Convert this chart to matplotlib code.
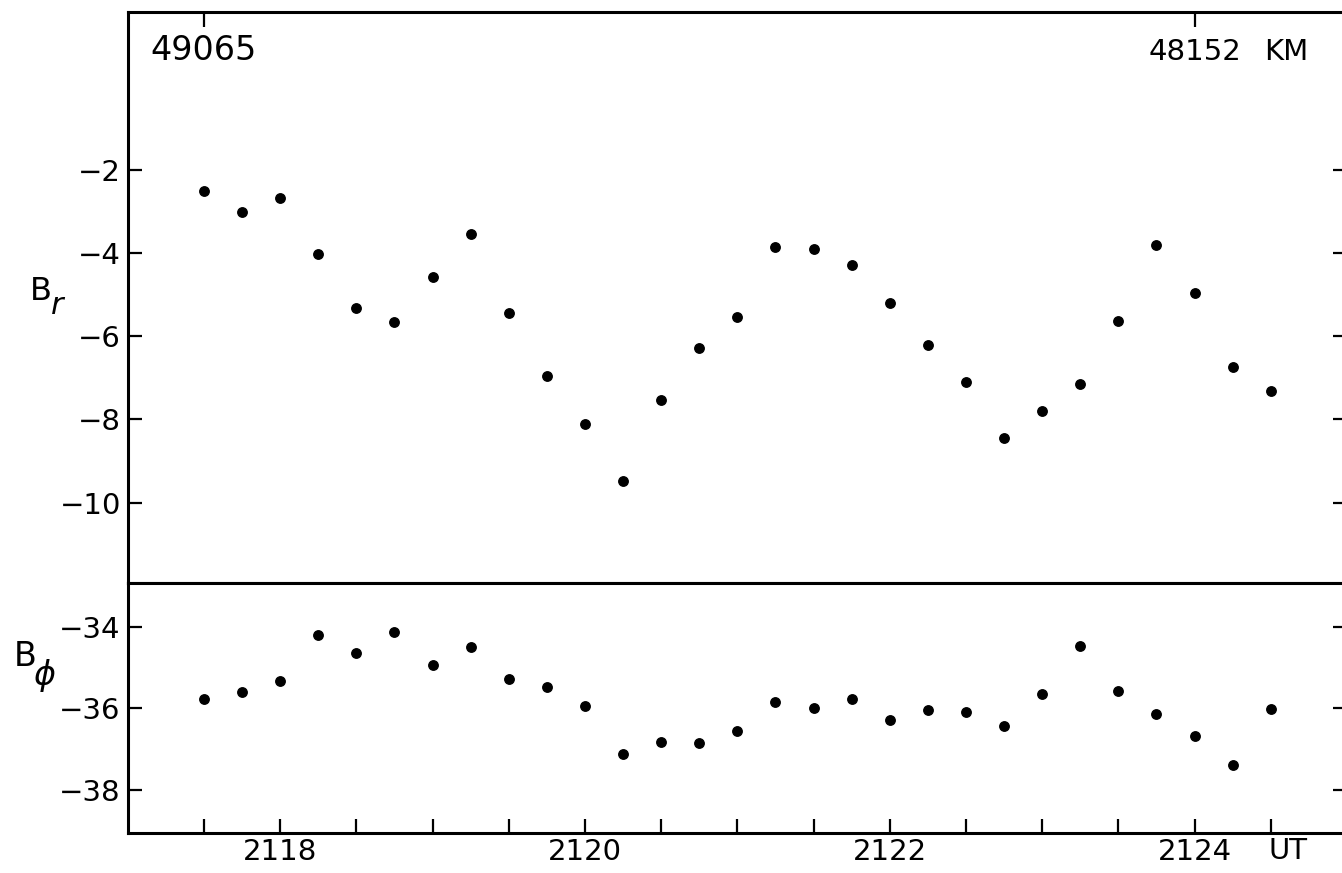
import matplotlib
matplotlib.use("Agg")
import matplotlib.pyplot as plt
import matplotlib.transforms as mtransforms
import numpy as np

# ---- data ----
times = [2117.50, 2117.75, 2118.00, 2118.25, 2118.50, 2118.75, 2119.00, 2119.25,
         2119.50, 2119.75, 2120.00, 2120.25, 2120.50, 2120.75, 2121.00, 2121.25,
         2121.50, 2121.75, 2122.00, 2122.25, 2122.50, 2122.75, 2123.00, 2123.25,
         2123.50, 2123.75, 2124.00, 2124.25, 2124.50]
b_r = [-2.51, -3.02, -2.67, -4.03, -5.33, -5.66, -4.57, -3.54,
       -5.45, -6.95, -8.10, -9.48, -7.54, -6.29, -5.53, -3.86,
       -3.91, -4.29, -5.19, -6.21, -7.10, -8.44, -7.80, -7.15,
       -5.62, -3.81, -4.96, -6.74, -7.31]
b_phi = [-35.77, -35.61, -35.34, -34.20, -34.65, -34.13, -34.95, -34.50,
         -35.29, -35.49, -35.94, -37.13, -36.83, -36.85, -36.56, -35.84,
         -36.00, -35.78, -36.29, -36.04, -36.10, -36.43, -35.64, -34.47,
         -35.58, -36.15, -36.67, -37.40, -36.03]
br_ticks = [-2, -4, -6, -8, -10]
bphi_ticks = [-34, -36, -38]
x_ticks = [2117.5, 2118, 2118.5, 2119, 2119.5, 2120, 2120.5, 2121, 2121.5,
           2122, 2122.5, 2123, 2123.5, 2124, 2124.5]
x_labeled = {2118: "2118", 2120: "2120", 2122: "2122", 2124: "2124"}
top_ticks = [2117.5, 2124]
top_left_label = "49065"
top_right_label = "48152"
top_unit = "KM"
time_unit = "UT"

# ---- layout ----
W, H = 1342, 873
fig = plt.figure(figsize=(W / 100, H / 100), dpi=100)
plt.rcParams['font.family'] = ['DejaVu Sans']

x_left, x_right = 127.7, 1347.0
y_top, y_mid, y_bot = 12.0, 583.3, 832.7

ax1 = fig.add_axes([x_left / W, 1 - y_mid / H, (x_right - x_left) / W, (y_mid - y_top) / H])
ax2 = fig.add_axes([x_left / W, 1 - y_bot / H, (x_right - x_left) / W, (y_bot - y_mid) / H])

for ax in (ax1, ax2):
    ax.set_xlim(2117.0, 2125.0)
    for s in ax.spines.values():
        s.set_linewidth(2.2)
    ax.tick_params(direction='in', length=10, width=1.6, labelsize=21,
                   left=True, right=True, pad=5)

ax1.set_ylim(-11.94, 1.80)
ax2.set_ylim(-39.05, -32.94)

ax1.plot(times, b_r, 'o', color='black', ms=6.8, mec='black')
ax2.plot(times, b_phi, 'o', color='black', ms=6.8, mec='black')

ax1.set_yticks(br_ticks)
ax1.set_yticklabels(["\u2212" + str(abs(v)) for v in br_ticks])
ax2.set_yticks(bphi_ticks)
ax2.set_yticklabels(["\u2212" + str(abs(v)) for v in bphi_ticks])

# top axis: only top ticks at the distance marks
ax1.tick_params(axis='x', bottom=False, top=True, labelbottom=False, labeltop=False,
                direction='in', length=11, width=1.6)
ax1.set_xticks(top_ticks)

ax2.set_xticks(x_ticks)
ax2.set_xticklabels([x_labeled.get(t, "") for t in x_ticks])
ax2.tick_params(axis='x', top=False, bottom=True, direction='in', length=10,
                width=1.6, pad=4)

# annotations
tr1 = mtransforms.blended_transform_factory(ax1.transData, fig.transFigure)
ax1.text(top_ticks[0], 1 - 50 / H, top_left_label, transform=tr1, ha='center',
         va='center', fontsize=24)
ax1.text(top_ticks[1], 1 - 52 / H, top_right_label, transform=tr1, ha='center',
         va='center', fontsize=21)
ax1.text(2124.60, 1 - 52 / H, top_unit, transform=tr1, ha='center',
         va='center', fontsize=21)

tr2 = mtransforms.blended_transform_factory(ax2.transData, fig.transFigure)
ax2.text(2124.61, 1 - 851 / H, time_unit, transform=tr2, ha='center',
         va='center', fontsize=21)

fig.text(30 / W, 1 - 292 / H, "B", fontsize=23, ha='left', va='center')
fig.text(50 / W, 1 - 305 / H, r"$r$", fontsize=22, ha='left', va='center')
fig.text(14 / W, 1 - 656 / H, "B", fontsize=24, ha='left', va='center')
fig.text(33 / W, 1 - 675 / H, r"$\phi$", fontsize=24, ha='left', va='center')

fig.savefig("out.png", dpi=100)
